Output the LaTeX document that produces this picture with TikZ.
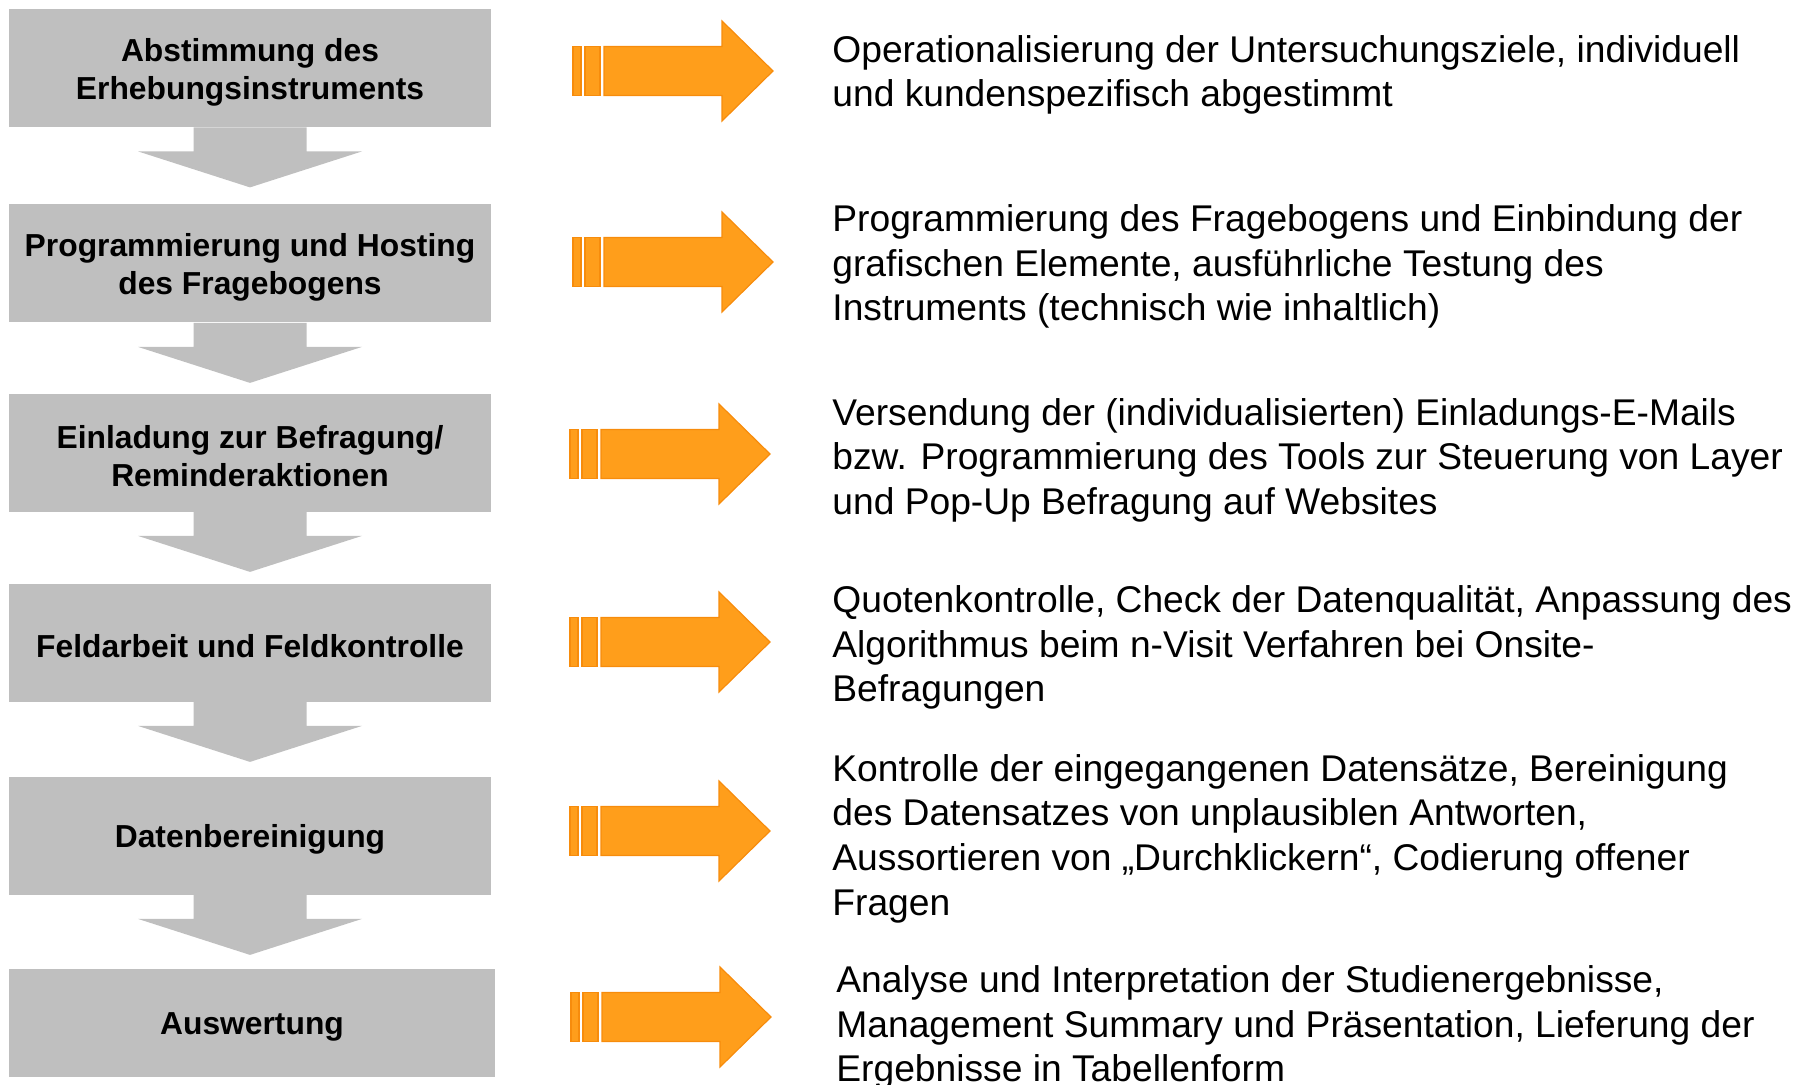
\documentclass[tikz,border=0pt]{standalone}
\usepackage{fontspec}
\setmainfont{Liberation Sans}
\usepackage{tikz}
\usetikzlibrary{calc}

\definecolor{kastengrau}{RGB}{191,191,191}
\definecolor{orangefill}{RGB}{255,158,27}
\definecolor{orangeline}{RGB}{247,140,12}

% striped arrow, #1 = centre of its left end, #2 = name
\newcommand{\Pfeil}[2]{%
  \coordinate (#2) at (#1);
  \filldraw[pfeil] ($ (#2)+(0,-24.5) $) rectangle +(8,49);
  \filldraw[pfeil] ($ (#2)+(12,-24.5) $) rectangle +(15,49);
  \filldraw[pfeil] ($ (#2)+(31,-24.5) $) -- ++(118,0) -- ++(0,-25.5)
    -- ($ (#2)+(200,0) $) -- ($ (#2)+(149,50) $) -- ++(0,-25.5) -- ++(-118,0) -- cycle;
}
% grey arrow below a step box
\newcommand{\Runter}[1]{%
  \fill[kastengrau] ($ (#1.south)+(-56.5,0) $) -- ++(0,24) -- ++(-55.5,0)
    -- ($ (#1.south)+(0,60) $) -- ($ (#1.south)+(112,24) $) -- ++(-55.5,0) -- ++(0,-24) -- cycle;
}

\begin{document}
\begin{tikzpicture}[x=0.5pt, y=-0.5pt,
  schritt/.style={fill=kastengrau, minimum width=241pt, minimum height=59pt, inner sep=0pt,
    label={[kastentext]center:#1}},
  kastentext/.style={inner sep=0pt, yshift=-2pt, align=center, font=\bfseries\fontsize{15.9}{19.1}\selectfont},
  beschr/.style={anchor=west, inner sep=0pt, align=left, font=\fontsize{18.6}{22.3}\selectfont},
  pfeil/.style={fill=orangefill, draw=orangeline, line width=0.6pt, line join=miter}]
	\useasboundingbox (0,0) rectangle (1808,1085);

	\node[schritt={Abstimmung des\\Erhebungsinstruments}] (s1) at (250,68) {};
	\node[schritt={Programmierung und Hosting\\des Fragebogens}] (s2) at (250,263.5) {};
	\node[schritt={Einladung zur Befragung/\\Reminderaktionen}] (s3) at (250,452.5) {};
	\node[schritt={Feldarbeit und Feldkontrolle}] (s4) at (250,642.5) {};
	\node[schritt={Datenbereinigung}] (s5) at (250,835.5) {};
	\node[schritt={Auswertung}, minimum width=243pt, minimum height=54pt] (s6) at (252,1023) {};

	\Runter{s1}
	\Runter{s2}
	\Runter{s3}
	\Runter{s4}
	\Runter{s5}

	\Pfeil{573,71}{p1}
	\Pfeil{573,262}{p2}
	\Pfeil{570,454}{p3}
	\Pfeil{570,642}{p4}
	\Pfeil{570,831}{p5}
	\Pfeil{571,1017}{p6}

	\node[beschr] (t1) at (832,75) {Operationalisierung der Untersuchungsziele, individuell\\und kundenspezifisch abgestimmt};
	\node[beschr] (t2) at (832,266.5) {Programmierung des Fragebogens und Einbindung der\\grafischen Elemente, ausführliche Testung des\\Instruments (technisch wie inhaltlich)};
	\node[beschr] (t3) at (832,460) {Versendung der (individualisierten) Einladungs-E-Mails\\bzw. Programmierung des Tools zur Steuerung von Layer\\und Pop-Up Befragung auf Websites};
	\node[beschr] (t4) at (832,647.5) {Quotenkontrolle, Check der Datenqualität, Anpassung des\\Algorithmus beim n-Visit Verfahren bei Onsite-\\Befragungen};
	\node[beschr] (t5) at (832,838.5) {Kontrolle der eingegangenen Datensätze, Bereinigung\\des Datensatzes von unplausiblen Antworten,\\Aussortieren von „Durchklickern“, Codierung offener\\Fragen};
	\node[beschr] (t6) at (836,1027.5) {Analyse und Interpretation der Studienergebnisse,\\Management Summary und Präsentation, Lieferung der\\Ergebnisse in Tabellenform};

\end{tikzpicture}
\end{document}
